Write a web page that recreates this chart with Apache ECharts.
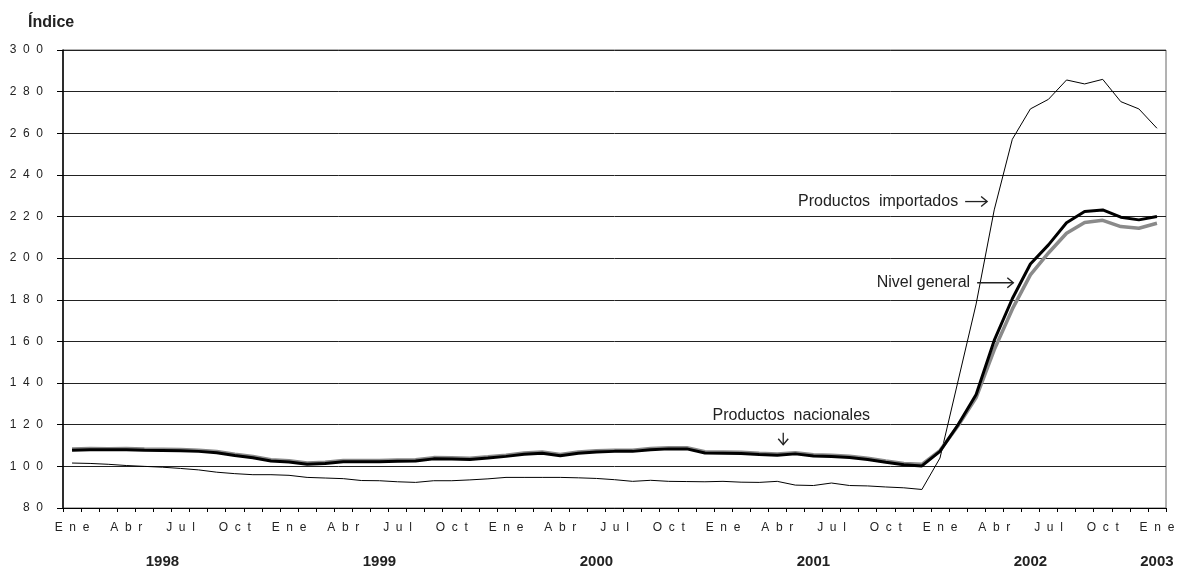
<!DOCTYPE html>
<html>
<head>
<meta charset="utf-8">
<script src="https://cdn.jsdelivr.net/npm/echarts/dist/echarts.min.js"></script>
<style>
html,body{margin:0;padding:0;background:#fff;}
#chart{width:1182px;height:569px;}
</style>
</head>
<body>
<div id="chart"></div>
<script>
// ---- data ----
const monthNames = ['Ene','Feb','Mar','Abr','May','Jun','Jul','Ago','Sep','Oct','Nov','Dic'];
const years = [1998, 1999, 2000, 2001, 2002, 2003];
const yTicks = [80, 100, 120, 140, 160, 180, 200, 220, 240, 260, 280, 300];

// Nivel general (thick black)
const nivelGeneral = [
  107.7, 108.0, 108.0, 108.0, 107.7, 107.6, 107.5, 107.2, 106.5, 105.2, 104.1, 102.6,
  102.1, 101.0, 101.4, 102.2, 102.2, 102.2, 102.5, 102.6, 103.6, 103.5, 103.3, 104.0,
  104.8, 105.8, 106.3, 105.1, 106.3, 106.9, 107.2, 107.2, 108.0, 108.4, 108.4, 106.4,
  106.3, 106.2, 105.7, 105.3, 106.0, 105.0, 104.7, 104.3, 103.3, 102.0, 100.8, 100.2,
  107.2, 120.0, 134.5, 160.5, 180.5, 197.2, 206.4, 217.0, 222.4, 223.2, 219.7, 218.4,
  220.0
];
// Productos nacionales (thick grey)
const productosNacionales = [
  108.3, 108.6, 108.5, 108.6, 108.3, 108.2, 108.1, 107.8, 107.1, 105.8, 104.7, 103.2,
  102.7, 101.6, 102.0, 102.8, 102.8, 102.8, 103.1, 103.2, 104.2, 104.1, 103.9, 104.6,
  105.4, 106.4, 106.9, 105.7, 106.9, 107.5, 107.8, 107.8, 108.6, 109.0, 109.0, 107.0,
  106.9, 106.8, 106.3, 105.9, 106.6, 105.6, 105.3, 104.9, 103.9, 102.6, 101.4, 101.0,
  107.6, 119.5, 133.0, 156.0, 175.5, 192.0, 202.5, 212.0, 217.1, 218.2, 215.2, 214.4,
  216.8
];
// Productos importados (thin black)
const productosImportados = [
  101.6, 101.4, 101.0, 100.4, 100.0, 99.6, 99.0, 98.3, 97.2, 96.5, 96.0, 96.0,
  95.7, 94.7, 94.4, 94.1, 93.2, 93.1, 92.6, 92.3, 93.1, 93.1, 93.5, 94.0,
  94.7, 94.7, 94.7, 94.7, 94.5, 94.2, 93.6, 92.8, 93.3, 92.8, 92.7, 92.6,
  92.8, 92.4, 92.3, 92.8, 91.0, 90.8, 92.0, 90.8, 90.6, 90.1, 89.7, 88.9,
  104.0, 141.0, 178.0, 223.2, 257.1, 271.7, 276.3, 285.6, 283.7, 285.9, 275.2, 271.7,
  262.4
];

// categories: Ene 1998 ... Ene 2003
const categories = [];
years.forEach(function (y) {
  monthNames.forEach(function (m) {
    if (y < 2003 || m === 'Ene') categories.push(m + ' ' + y);
  });
});

const FONT = 'Liberation Sans, Arial, sans-serif';
const spaced = function (s) { return String(s).split('').join('  '); };

const chart = echarts.init(document.getElementById('chart'), null, {renderer: 'canvas'});

const option = {
  animation: false,
  backgroundColor: '#fff',
  textStyle: {fontFamily: FONT},
  title: {
    text: 'Índice', left: 23, top: 10,
    textStyle: {fontFamily: FONT, fontSize: 16, fontWeight: 'bold', color: '#222'}
  },
  grid: {
    left: 63, right: 16, top: 50, height: 458,
    show: true, borderColor: '#666', borderWidth: 1
  },
  xAxis: [{
    type: 'category',
    data: categories,
    boundaryGap: true,
    position: 'bottom',
    axisLine: {show: true, lineStyle: {color: '#000', width: 1}},
    axisTick: {show: true, interval: 0, length: 4, lineStyle: {color: '#000'}},
    axisLabel: {
      interval: function (i) { return i % 3 === 0; },
      formatter: function (v) { return spaced(v.split(' ')[0]); },
      fontFamily: FONT, fontSize: 12, color: '#222', margin: 14
    },
    splitLine: {show: false}
  }, {
    type: 'category',
    data: categories,
    boundaryGap: true,
    position: 'bottom',
    axisLine: {show: false},
    axisTick: {show: false},
    axisLabel: {
      interval: function (i) { return i % 12 === 5 || i === categories.length - 1; },
      formatter: function (v) { return v.split(' ')[1]; },
      fontFamily: FONT, fontSize: 15, fontWeight: 'bold', color: '#222', margin: 46
    },
    splitLine: {show: false}
  }],
  yAxis: {
    type: 'value',
    min: yTicks[0], max: yTicks[yTicks.length - 1], interval: yTicks[1] - yTicks[0],
    axisLine: {show: true, lineStyle: {color: '#000', width: 1.5}},
    axisTick: {show: true, length: 6, lineStyle: {color: '#000'}},
    axisLabel: {formatter: spaced, fontFamily: FONT, fontSize: 12, color: '#222', margin: 20},
    splitLine: {show: true, lineStyle: {color: '#222', width: 1}}
  },
  series: [{
    name: 'Productos importados', type: 'line', data: productosImportados,
    symbol: 'none', z: 2, lineStyle: {color: '#000', width: 1}, itemStyle: {color: '#000'}
  }, {
    name: 'Productos nacionales', type: 'line', data: productosNacionales,
    symbol: 'none', z: 3, lineStyle: {color: '#8a8a8a', width: 3.5}, itemStyle: {color: '#8a8a8a'}
  }, {
    name: 'Nivel general', type: 'line', data: nivelGeneral,
    symbol: 'none', z: 4, lineStyle: {color: '#000', width: 3}, itemStyle: {color: '#000'}
  }]
};
chart.setOption(option);

// annotations anchored in data coordinates [category index, value]
const notes = [
  {text: 'Productos  importados', at: [50, 227.2], dx: -18, align: 'right', size: 16},
  {text: 'Nivel general', at: [50, 188.2], dx: -6, align: 'right', size: 16},
  {text: 'Productos  nacionales', at: [40, 124.3], dx: -4, align: 'center', size: 16}
];
// arrows: from / to in data coordinates, dx pixel nudge
const arrows = [
  {from: [50, 227.2], to: [50, 227.2], dx: -11, dx2: 11},
  {from: [50, 188.2], to: [52, 188.2], dx: 1, dx2: 1},
  {from: [39, 116.2], to: [39, 110.4], dx: 6, dx2: 6}
];

const toPx = function (p) { return chart.convertToPixel({xAxisIndex: 0, yAxisIndex: 0}, p); };
const graphics = notes.map(function (n) {
  const p = toPx(n.at);
  return {
    type: 'text', x: p[0] + n.dx, y: p[1], z: 10,
    style: {text: n.text, fill: '#222', font: n.size + 'px ' + FONT, align: n.align, verticalAlign: 'middle'}
  };
});
arrows.forEach(function (a) {
  const p1 = toPx(a.from), p2 = toPx(a.to);
  const x1 = p1[0] + a.dx, y1 = p1[1], x2 = p2[0] + a.dx2, y2 = p2[1];
  const len = Math.hypot(x2 - x1, y2 - y1);
  const ux = (x2 - x1) / len, uy = (y2 - y1) / len;
  const h = 6, w = 5;
  graphics.push({
    type: 'line', z: 10,
    shape: {x1: x1, y1: y1, x2: x2, y2: y2},
    style: {stroke: '#222', lineWidth: 1.3}
  });
  graphics.push({
    type: 'polyline', z: 10,
    shape: {points: [
      [x2 - ux * h - uy * w, y2 - uy * h + ux * w],
      [x2, y2],
      [x2 - ux * h + uy * w, y2 - uy * h - ux * w]
    ]},
    style: {stroke: '#222', lineWidth: 1.4, fill: null}
  });
});
chart.setOption({graphic: graphics});
</script>
</body>
</html>
